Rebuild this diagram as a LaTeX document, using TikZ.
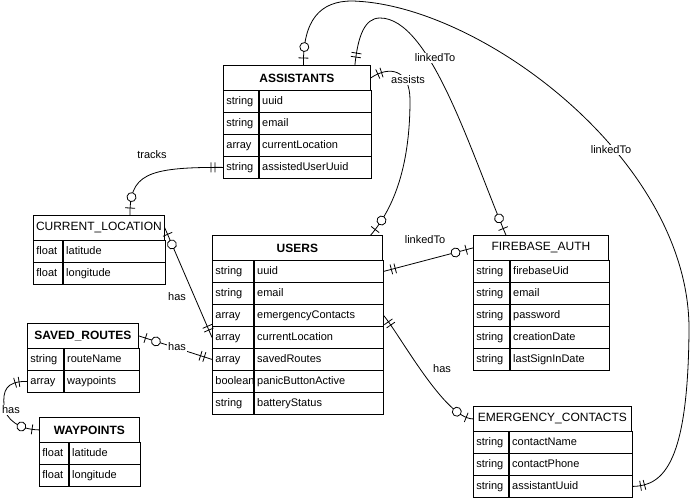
\documentclass[tikz,border=0pt]{standalone}
\usepackage{fontspec}
\setmainfont{Liberation Sans}
\usetikzlibrary{decorations.markings}

% one entity box: name, x, y, width, type column width, title, rows
\newcommand{\ertable}[7]{%
  \pgfmathsetmacro\tw{#5-6}%
  \pgfmathsetmacro\fw{#4-#5-6}%
  \node[hdr, minimum width=#4] (#1) at (#2,#3) {#6};
  \foreach \ty/\fd [count=\n] in {#7} {
    \node[cell, text width=\tw pt] (#1-\n) at (#2,#3+3+22*\n) {\ty};
    \node[cell, text width=\fw pt] (#1-f\n) at (#1-\n.north east) {\fd};
  }
}

\tikzset{
  hdr/.style={draw, anchor=north west, minimum height=25, inner sep=0pt, font=\fontsize{12}{14}\selectfont},
  cell/.style={draw, anchor=north west, minimum height=22, inner xsep=3pt, inner ysep=0pt, align=left,
    text height=8pt, text depth=2.5pt, font=\fontsize{11}{13}\selectfont},
  lbl/.style={fill=white, inner sep=1pt, font=\fontsize{11}{13}\selectfont},
  onestart/.style={postaction={decorate, decoration={markings,
      mark=at position 8pt with {\draw (0,-5pt) -- (0,5pt);},
      mark=at position 12pt with {\draw (0,-5pt) -- (0,5pt);}}}},
  oneend/.style={postaction={decorate, decoration={markings,
      mark=at position -8pt with {\draw (0,-5pt) -- (0,5pt);},
      mark=at position -12pt with {\draw (0,-5pt) -- (0,5pt);}}}},
  optstart/.style={postaction={decorate, decoration={markings,
      mark=at position 7pt with {\draw (0,-5pt) -- (0,5pt);},
      mark=at position 18pt with {\draw[fill=white] (0,0) circle (4.5pt);}}}},
  optend/.style={postaction={decorate, decoration={markings,
      mark=at position -7pt with {\draw (0,-5pt) -- (0,5pt);},
      mark=at position -18pt with {\draw[fill=white] (0,0) circle (4.5pt);}}}}
}

\begin{document}
\begin{tikzpicture}[x=1pt, y=-1pt, line width=0.8pt]
  \useasboundingbox (0,0) rectangle (692,498);

  % entities
  \ertable{asst}{223}{65}{147}{35}{\bfseries ASSISTANTS}{string/uuid, string/email, array/currentLocation, string/assistedUserUuid}
  \ertable{curloc}{33}{215}{131}{29}{CURRENT\_LOCATION}{float/latitude, float/longitude}
  \ertable{users}{212}{235}{170}{41}{\bfseries USERS}{string/uuid, string/email, array/emergencyContacts, array/currentLocation, array/savedRoutes, boolean/panicButtonActive, string/batteryStatus}
  \ertable{fbauth}{473}{235}{135}{36}{FIREBASE\_AUTH}{string/firebaseUid, string/email, string/password, string/creationDate, string/lastSignInDate}
  \ertable{routes}{27}{323}{111}{36}{\bfseries SAVED\_ROUTES}{string/routeName, array/waypoints}
  \ertable{wpts}{39}{417}{100}{29}{\bfseries WAYPOINTS}{float/latitude, float/longitude}
  \ertable{emerg}{473}{406}{158}{35}{EMERGENCY\_CONTACTS}{string/contactName, string/contactPhone, string/assistantUuid}

  % relations
  \draw[onestart, optend] (asst-4.west) .. controls (145,167) and (130,175) .. ([xshift=31]curloc.north);
  \draw[optstart, oneend] ([xshift=6.5]asst.north) .. controls (303,20) and (320,1) .. (352,1)
    .. controls (480,4) and (690,160) .. (689,330) .. controls (688,460) and (665,486) .. (emerg-f3.east);
  \draw[onestart, optend] ([xshift=58]asst.north) .. controls (358,35) and (365,18) .. (380,18)
    .. controls (430,18) and (470,150) .. ([xshift=-35]fbauth.north);
  \draw[onestart, optend] (asst.east) .. controls (390,65) and (410,70) .. (410,100)
    .. controls (410,170) and (392,210) .. ([xshift=-12]users.north east);
  \draw[onestart, optend] (users-f1.east) -- (fbauth.west);
  \draw[onestart, optend] (users-f3.east) .. controls (400,335) and (445,418.5) .. (emerg.west);
  \draw[optstart, oneend] (curloc.east) -- (users-4.west);
  \draw[optstart, oneend] (routes.east) -- (users-5.west);
  \draw[onestart, optend] (routes-2.west) .. controls (5,381) and (3,392) .. (4,405)
    .. controls (5,420) and (20,429.5) .. (wpts.west);

  % labels
  \node[lbl] (tracks) at (152,155) {tracks};
  \node[lbl] (link1) at (435,58) {linkedTo};
  \node[lbl] (link2) at (611,150) {linkedTo};
  \node[lbl] (assists) at (408,80) {assists};
  \node[lbl] (link3) at (425,240) {linkedTo};
  \node[lbl] (has1) at (442,369) {has};
  \node[lbl] (has2) at (177,297) {has};
  \node[lbl] (has3) at (177,347) {has};
  \node[lbl] (has4) at (11,410) {has};
\end{tikzpicture}
\end{document}
